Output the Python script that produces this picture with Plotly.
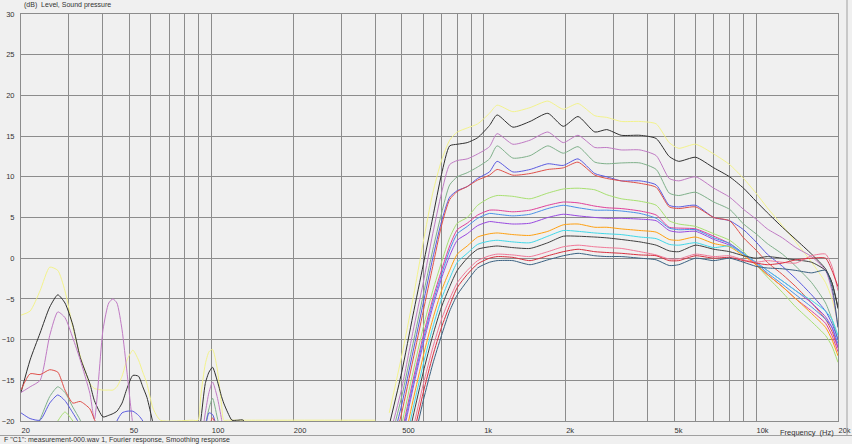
import plotly.graph_objects as go
import math

# ---------------- data ----------------
LOW_FREQ = [20, 21.6, 23.5, 25.5, 27.3, 29, 31, 33, 35.8, 37.2, 40, 42, 43.5, 45, 47, 49,
            51.5, 54, 56, 58, 61, 65, 85, 89.4, 91.4, 95, 98, 101, 105, 109, 111, 115,
            119, 125, 131, 140, 400]

MAIN_FREQ = [450, 500, 550, 600, 650, 700, 750, 800, 870, 950, 1050, 1120, 1280, 1480,
             1720, 1960, 2220, 2560, 2830, 3200, 3750, 4300, 4800, 5200, 6000, 7000,
             8000, 9000, 10000, 11000, 12500, 14000, 16000, 18000, 19000, 20000]

yellow_low = [-7, -6.5, -4, -1.1, -1.5, -4, -8.5, -12, -15.4, -16, -16.2, -16.2, -16.2, -15.8,
              -14.5, -12.5, -11.3, -12.5, -14, -15.4, -18.4, -19.9, -19.9, -19.9, -17, -13,
              -11.5, -11.2, -13.5, -18, -19.9, -19.9, -19.9, -19.9, -19.9, -19.9, -19.9]
black_low = [-16.5, -12.5, -9.2, -6, -4.5, -5.5, -8.2, -12.2, -15.4, -17.5, -19.5, -19.3,
             -19.1, -18.8, -17.8, -16, -14.4, -14.5, -15.8, -17.1, -20.2, -24, None, -22,
             -20, -15.4, -14, -13.4, -15, -17, -17.8, -19, -19.9, -19.9, -19.9, -24, None]
violet_low = [-16.5, -15.8, -15, -9.5, -6.6, -7.3, -9.8, -12.5, -16.6, -19.8, -8.8, -5.5,
              -5, -5.5, -8.8, -14, -20.5, -25, None, None, None, None, None, None, -23,
              -19, -16.5, -15.2, -17, -19.8, -22, None, None, None, None, None, None]
green_low = [-23, -22, -19.8, -17, -15.8, -16.5, -18.3, -19.9, -23, None, None, None, None,
             None, None, None, None, None, None, None, None, None, None, None, None,
             -20.5, -18.5, -17.2, -19.5, -22, None, None, None, None, None, None, None]
bluev_low = [-19, -19.7, -19.9, -17.8, -16.8, -17.5, -19, -20.5, None, None, None, None,
             -22, -20, -19, -18.8, -18.8, -19.3, -20, -22, None, None, None, None, None,
             -21, -19, -19.2, -21, None, None, None, None, None, None, None, None]
red_low = [-16.2, -14.2, -14.3, -13.7, -14.0, -16.2, -17.8, -17.6, -18.5, -19.8, -22, None,
           None, None, None, None, None, None, None, None, None, None, None, None, None,
           None, -21, -19.6, -21, None, None, None, None, None, None, None, None]
lgreen_low = [None, None, None, -22, -20, -18.9, -20, -22, None, None, None, None, None,
              None, None, None, None, None, None, None, None, None, None, None, None, None,
              None, None, None, None, None, None, None, None, None, None, None]

yellow_main = [-19, -12, -5, 2, 8, 12, 14.5, 15.5, 16, 16.5, 17.8, 18.8, 18, 18.5, 19.3, 18.3,
               19, 17.5, 17.3, 16.8, 16.8, 16.5, 14.2, 13.5, 14, 12.8, 11.5, 9.8, 8, 6.2, 4,
               2, -0.5, -3, -5, -8]
black_main = [-20.5, -14, -7, -0.8, 5, 10.3, 13.8, 14.0, 14.2, 14.8, 16.3, 17.6, 16.1, 16.8,
              17.8, 16.2, 17.4, 15.5, 15.8, 15.1, 15.1, 14.7, 12.5, 11.9, 12.4, 11.1, 10.0,
              8.6, 7.0, 5.6, 3.8, 2.3, 0.5, -1.3, -3, -6.2]
violet_main = [-22, -16, -9, -3, 3, 8, 11.5, 12, 12.2, 12.8, 13.7, 15.3, 14.0, 14.5, 15.5,
               14.2, 15.1, 13.6, 13.6, 13.3, 13.3, 12.6, 9.8, 9.5, 10, 8.6, 7.5, 6.0, 4.8,
               3.6, 2.5, 1.3, 0.2, -1.5, -4, -8.5]
green_main = [-23, -17, -10.5, -4.5, 1, 5.5, 9, 10, 10.5, 11.2, 12.2, 13.8, 12.3, 12.6, 13.8,
              12.9, 13.7, 11.8, 11.6, 11.7, 11.7, 10.9, 8.0, 7.7, 8.1, 6.9, 6.0, 4.2, 3.0,
              1.8, 0.5, -1.0, -3, -5.5, -7.5, -10]
bluev_main = [-24, -18, -11.5, -5.5, 0, 4.5, 7.5, 8.3, 8.8, 9.8, 10.6, 11.9, 10.6, 10.9, 11.6,
              11.4, 12.2, 10.4, 10, 9.5, 9.5, 9.0, 6.5, 6.3, 6.5, 5.0, 4.6, 3.5, 2.0, 0.5,
              -1.0, -2.5, -4.5, -6.5, -8, -10]
red_main = [-25, -19, -12.5, -6.5, -1, 4, 7.2, 8.2, 8.8, 9.6, 10.2, 10.9, 10.2, 10.4, 10.9,
            11.1, 11.8, 10.2, 9.8, 9.5, 9.2, 8.7, 6.3, 6.1, 6.3, 5.0, 4.6, 2.5, 1, -0.5, -2,
            -3.5, -5.5, -7.5, -9, -11]
lgreen_main = [-28, -20.5, -14, -8.5, -4, -0.5, 2.5, 4.3, 5.0, 6.5, 7.4, 7.7, 7.6, 7.3, 8.0,
               8.5, 8.6, 8.4, 7.8, 7.3, 7.0, 6.5, 4.6, 4.2, 3.9, 3.0, 2.2, 0.8, -0.8, -2.3,
               -4.2, -6, -7.8, -9.5, -10.8, -12.8]
magenta_main = [-29, -21.5, -15, -9.5, -5, -1.5, 1.5, 3.5, 4.3, 5.3, 5.9, 5.9, 5.7, 5.9, 6.5,
                6.9, 6.8, 6.4, 6.2, 6.1, 5.8, 5.3, 3.8, 3.7, 3.6, 2.7, 1.8, 0.5, -0.8, -2,
                -3.5, -5, -6.5, -8, -9.5, -11.5]
blue_main = [-29.5, -22, -15.5, -10, -5.5, -2, 1, 3, 3.9, 4.9, 5.5, 5.4, 5.2, 5.4, 6.1, 6.5,
             6.2, 5.9, 5.9, 5.8, 5.5, 4.9, 3.7, 3.5, 3.5, 2.5, 1.8, 0.6, -0.6, -1.8, -3.2,
             -4.5, -6, -7.5, -8.5, -10.5]
purple_main = [-30, -22.5, -16, -10.5, -6, -2.5, 0.3, 2.2, 3.0, 4.0, 4.5, 4.4, 4.2, 4.3, 5.0,
               5.4, 5.2, 5.0, 4.9, 4.9, 4.8, 4.6, 3.4, 3.2, 3.3, 2.3, 1.6, 0.5, -0.5, -1.5,
               -2.8, -4, -5.5, -7.2, -8.5, -11]
orange_main = [-31, -24, -17.5, -12, -7.5, -4, -1.5, 0.5, 1.5, 2.6, 3.0, 3.1, 2.9, 2.8, 3.3,
               4.1, 4.2, 3.8, 3.8, 3.6, 3.4, 3.2, 2.3, 2.2, 2.6, 1.8, 1.4, 0.3, -0.8, -2,
               -3.5, -5, -6.8, -8.5, -10, -12]
cyan_main = [-32, -25, -18.5, -13, -8.5, -5, -2.5, -0.5, 0.6, 1.7, 2.1, 2.2, 2.0, 1.9, 2.7,
             3.4, 3.3, 3.1, 3.0, 2.9, 2.6, 2.4, 1.7, 1.6, 1.9, 1.3, 1.5, 0.5, -0.5, -1.5,
             -2.8, -4, -5.2, -6.5, -7.5, -9.5]
dark_main = [-33, -26, -19.5, -14, -9.5, -6, -3.5, -1.5, 0, 1.1, 1.4, 1.5, 1.3, 1.2, 1.9, 2.7,
             2.7, 2.6, 2.5, 2.3, 2.0, 1.6, 0.9, 0.8, 1.6, 1.1, 0.8, 0.3, 0, 0.2, 0, -0.2,
             -0.5, -1.5, -3, -6]
pink_main = [-34, -27, -21, -15.5, -11, -7.5, -5, -3, -1.5, -0.3, 0.3, 0.5, 0.4, 0.2, 0.8,
             1.4, 1.6, 1.4, 1.3, 1.2, 0.8, 0.4, -0.1, -0.1, 0.5, 0.2, 0.3, -0.2, -0.5, -0.3,
             -0.5, -0.6, 0.3, 0.5, -1, -4]
red2_main = [-35, -28, -22, -16.5, -12, -8.5, -5.8, -3.6, -2, -0.7, 0, 0.2, 0.1, -0.3, 0.3,
             0.8, 1.1, 0.8, 0.7, 0.6, 0.4, 0.3, -0.3, -0.3, 0.3, 0, 0.1, -0.3, -0.6, -0.8,
             -0.6, -0.2, 0, 0, -1.5, -3.5]
dblue_main = [-36, -29, -23, -17.5, -13, -9.5, -6.5, -4.5, -2.8, -1.2, -0.5, -0.3, -0.3, -0.8,
              -0.2, 0.3, 0.6, 0.3, 0.2, 0.2, 0, -0.2, -0.9, -0.8, 0, -0.3, 0, -0.5, -1, -1.2,
              -1.3, -1.5, -1.8, -1.5, -3.5, -8.5]

Y_TICKS = [30, 25, 20, 15, 10, 5, 0, -5, -10, -15, -20]
X_LABEL_VALS = [20, 50, 100, 200, 500, 1000, 2000, 5000, 10000, 20000]
X_LABEL_TEXT = ["20", "50", "100", "200", "500", "1k", "2k", "5k", "10k", "20k"]
X_MINOR_VALS = [30, 40, 60, 70, 80, 90, 300, 400, 600, 700, 800, 900,
                3000, 4000, 6000, 7000, 8000, 9000]

# ---------------- styling ----------------
series = [
    ("yellow", yellow_low, yellow_main, "#f3f38c"),
    ("black", black_low, black_main, "#303030"),
    ("violet", violet_low, violet_main, "#c07ac4"),
    ("green", green_low, green_main, "#7fb08a"),
    ("bluev", bluev_low, bluev_main, "#5a5ae0"),
    ("red", red_low, red_main, "#e0504a"),
    ("lgreen", lgreen_low, lgreen_main, "#a8e070"),
    ("magenta", None, magenta_main, "#e0409a"),
    ("blue", None, blue_main, "#4a90e8"),
    ("purple", None, purple_main, "#9848e0"),
    ("orange", None, orange_main, "#ffa010"),
    ("cyan", None, cyan_main, "#40d8e8"),
    ("dark", None, dark_main, "#404040"),
    ("pink", None, pink_main, "#f07898"),
    ("red2", None, red2_main, "#d83040"),
    ("dblue", None, dblue_main, "#3a6080"),
]

BG = "#f0f0f0"
GRID = "#8c8c8c"
TXT = "#333333"
FONT = "Liberation Sans, Arial, sans-serif"

fig = go.Figure()
for name, low, main, color in series:
    if low is not None:
        fig.add_trace(go.Scatter(x=LOW_FREQ, y=low, mode="lines", name=name,
                                 line=dict(color=color, width=1, shape="spline", smoothing=0.6),
                                 connectgaps=False, hoverinfo="skip", showlegend=False))
    fig.add_trace(go.Scatter(x=MAIN_FREQ, y=main, mode="lines", name=name,
                             line=dict(color=color, width=1, shape="spline", smoothing=0.6),
                             hoverinfo="skip", showlegend=False))

L, R, T, B = 21, 14, 14, 23
W, H = 852, 444
pw, ph = W - L - R, H - T - B

def px_x(px):
    return (px - L) / pw

def px_y(py):
    return (H - B - py) / ph

fig.update_layout(
    width=W, height=H,
    margin=dict(l=L, r=R, t=T, b=B, pad=0, autoexpand=False),
    paper_bgcolor=BG, plot_bgcolor=BG,
    font=dict(family=FONT, size=7.5, color=TXT),
    showlegend=False,
    xaxis=dict(type="log", range=[math.log10(20), math.log10(20000)],
               tickvals=X_LABEL_VALS, ticktext=X_LABEL_TEXT, automargin=False,
               ticklabelposition="outside right", ticks="", ticklabelstandoff=2,
               showgrid=True, gridcolor=GRID, gridwidth=1,
               minor=dict(tickvals=X_MINOR_VALS, showgrid=True, gridcolor=GRID, gridwidth=1, ticks=""),
               showline=True, linecolor=GRID, linewidth=1, mirror=True,
               zeroline=False, fixedrange=True),
    yaxis=dict(range=[-20, 30], tickvals=Y_TICKS, ticks="", ticklabelstandoff=4,
               automargin=False,
               showgrid=True, gridcolor=GRID, gridwidth=1,
               showline=True, linecolor=GRID, linewidth=1, mirror=True,
               zeroline=False, fixedrange=True),
)

annotations = [
    dict(text="(dB)  Level, Sound pressure", x=px_x(22), y=px_y(5), xref="paper", yref="paper",
         xanchor="left", yanchor="middle", showarrow=False, font=dict(size=7, color=TXT)),
    dict(text="Frequency  (Hz)", x=px_x(836), y=px_y(432), xref="paper", yref="paper",
         xanchor="right", yanchor="middle", showarrow=False, font=dict(size=7.5, color=TXT)),
    dict(text='F "C1": measurement-000.wav 1, Fourier response, Smoothing response',
         x=px_x(2), y=px_y(439.5), xref="paper", yref="paper",
         xanchor="left", yanchor="middle", showarrow=False, font=dict(size=7, color=TXT)),
]
fig.update_layout(annotations=annotations)

fig.add_shape(type="line", xref="paper", yref="paper", x0=px_x(0), x1=px_x(W),
              y0=px_y(435.5), y1=px_y(435.5), line=dict(color="#a0a0a0", width=1))
fig.add_shape(type="line", xref="paper", yref="paper", x0=px_x(847), x1=px_x(847),
              y0=px_y(0), y1=px_y(435.5), line=dict(color="#a0a0a0", width=1))

fig.write_html("out.html", config={"displayModeBar": False},
               post_script="document.body.style.margin='0';document.body.style.overflow='hidden';")
